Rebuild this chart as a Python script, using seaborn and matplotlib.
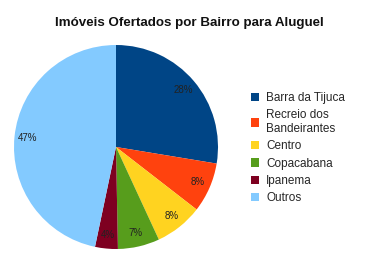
import matplotlib
matplotlib.use("Agg")
import matplotlib.pyplot as plt
import seaborn as sns
from matplotlib.patches import Patch

sns.set_style("white")
plt.rcParams['font.family'] = ['Liberation Sans', 'DejaVu Sans']

bairros = ["Barra da Tijuca", "Recreio dos\nBandeirantes", "Centro", "Copacabana", "Ipanema", "Outros"]
percentuais = [27.6, 7.9, 7.6, 6.6, 3.6, 46.7]
cores = sns.color_palette(["#004586", "#ff420e", "#ffd320", "#579d1c", "#7e0021", "#83caff"])

fig = plt.figure(figsize=(3.8, 2.57), dpi=100)
ax = fig.add_axes([14/380, 8/257, 204/380, 204/257])
wedges, texts, autotexts = ax.pie(
    percentuais, colors=cores, startangle=90, counterclock=False,
    autopct="%.0f%%", pctdistance=0.87, radius=1,
    textprops=dict(fontsize=7, color="#222222"),
    wedgeprops=dict(linewidth=0),
)
ax.set_xlim(-1, 1)
ax.set_ylim(-1, 1)
ax.set_aspect("equal")
ax.axis("off")

fig.text(189/380, 1 - 23/257, "Imóveis Ofertados por Bairro para Aluguel",
         ha="center", va="center", fontsize=9.6, fontweight="bold", color="#111111")

handles = [Patch(facecolor=c, edgecolor="none") for c in cores]
fig.legend(handles, bairros, loc="upper left", bbox_to_anchor=(251/380, 1 - 92/257),
           frameon=False, fontsize=8.5, handlelength=0.7, handleheight=0.7,
           handletextpad=0.6, labelspacing=0.45, borderaxespad=0, borderpad=0)

fig.savefig("out.png", dpi=100)
